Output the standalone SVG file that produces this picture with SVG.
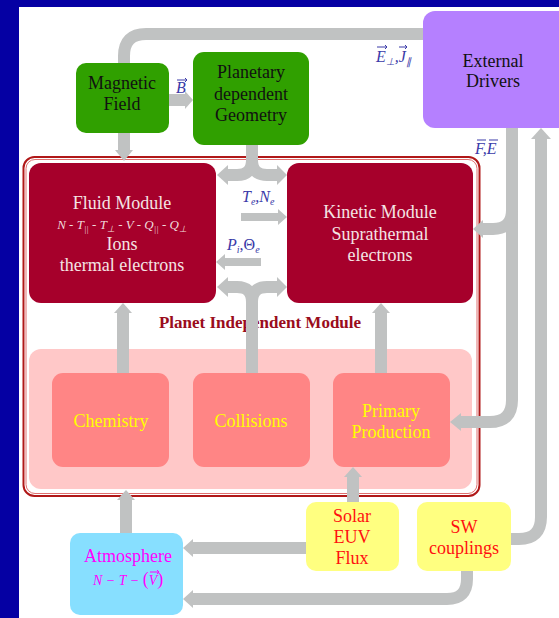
<svg xmlns="http://www.w3.org/2000/svg" width="559" height="618" viewBox="0 0 559 618">
<style>
.t{font-family:"Liberation Serif","Times New Roman",serif;font-size:18px;text-anchor:middle}
.m{font-family:"Liberation Serif","Times New Roman",serif;font-style:italic}
.lbl{fill:#3a3aa8;font-size:16px}
.c{fill:none;stroke:#c0c2c2;stroke-width:12}
.c8{fill:none;stroke:#c0c2c2;stroke-width:8}
.h{fill:#c0c2c2}
.v{stroke:#3a3aa8;stroke-width:1;fill:none}
</style>
<rect width="559" height="618" fill="#0500a3"/>
<rect x="19" y="7" width="540" height="611" fill="#ffffff"/>

<g id="planet-independent-module">
<rect x="23.5" y="157" width="456" height="339" rx="11" fill="none" stroke="#b01818" stroke-width="2"/>
<rect x="26" y="159.5" width="451" height="334" rx="9" fill="none" stroke="#e07070" stroke-width="1"/>
<rect x="29" y="349" width="443" height="140" rx="12" fill="#ffc8c8"/>
<text x="260" y="328" class="t" style="font-weight:bold;font-size:17px;fill:#9a0c1c">Planet Independent Module</text>
</g>

<g id="connectors">
<path class="c" d="M124,63 V56 Q124,34 146,34 H423"/>
<path class="c" d="M124,133 V150"/><polygon class="h" points="115,150 133,150 124,161"/>
<path class="c" d="M169,100 H185"/><polygon class="h" points="185,91 185,109 193,100"/>
<path class="c" d="M252,145 V160 Q252,175 237,175 H228 M252,160 Q252,175 267,175 H277"/>
<polygon class="h" points="228,165 228,185 217,175"/><polygon class="h" points="277,165 277,185 287,175"/>
<path class="c8" d="M241,217 H278"/><polygon class="h" points="278,209 278,225 287,217"/>
<path class="c8" d="M261,262 H225"/><polygon class="h" points="225,254 225,270 216,262"/>
<path class="c" d="M252,373 V302 Q252,287 237,287 H228 M252,302 Q252,287 267,287 H277"/>
<polygon class="h" points="228,277 228,297 217,287"/><polygon class="h" points="277,277 277,297 287,287"/>
<path class="c" d="M123,373 V313"/><polygon class="h" points="114,313 132,313 123,303"/>
<path class="c" d="M381,373 V313"/><polygon class="h" points="372,313 390,313 381,303"/>
<path class="c" d="M512,128 V400 Q512,422 490,422 H461"/><polygon class="h" points="461,413 461,431 450,422"/>
<path class="c" d="M512,210 Q512,229 493,229 H483"/><polygon class="h" points="483,220 483,238 473,229"/>
<path class="c" d="M510,539 H519 Q541,539 541,517 V139"/><polygon class="h" points="531,139 551,139 541,128"/>
<path class="c" d="M353,502 V477"/><polygon class="h" points="344,477 362,477 353,467"/>
<path class="c" d="M306,548 H193"/><polygon class="h" points="193,539 193,557 183,548"/>
<path class="c" d="M467,571 V579 Q467,599 447,599 H193"/><polygon class="h" points="193,590 193,608 183,599"/>
<path class="c" d="M126,533 V500"/><polygon class="h" points="117,500 135,500 126,490"/>
</g>

<g id="connector-labels">
<text x="176" y="93" class="m lbl">B</text>
<path class="v" d="M177,80 H187 M185,78 L187,80 L185,82"/>
<text x="376" y="62" class="m lbl"><tspan>E</tspan><tspan font-size="10" dy="3">⊥</tspan><tspan dy="-3">,J</tspan><tspan font-size="10" dy="3">∥</tspan></text>
<path class="v" d="M377,47 H387 M385,45 L387,47 L385,49 M399,47 H407 M405,45 L407,47 L405,49"/>
<text x="475" y="154" class="m lbl">F,E</text>
<path class="v" d="M477,140 H486 M489,140 H498"/>
<text x="242" y="202" class="m lbl">T<tspan font-size="10" dy="3">e</tspan><tspan dy="-3">,N</tspan><tspan font-size="10" dy="3">e</tspan></text>
<text x="227" y="250" class="m lbl">P<tspan font-size="10" dy="3">i</tspan><tspan dy="-3" font-style="normal">,Θ</tspan><tspan font-size="10" dy="3">e</tspan></text>
</g>

<g id="magnetic-field">
<rect x="76" y="63" width="93" height="70" rx="10" fill="#30a000"/>
<text x="122" y="89" class="t" fill="#111">Magnetic</text>
<text x="122" y="110" class="t" fill="#111">Field</text>
</g>

<g id="planetary-geometry">
<rect x="193" y="52" width="116" height="93" rx="11" fill="#30a000"/>
<text x="251" y="78" class="t" fill="#111">Planetary</text>
<text x="251" y="100" class="t" fill="#111">dependent</text>
<text x="251" y="121" class="t" fill="#111">Geometry</text>
</g>

<g id="external-drivers">
<rect x="423" y="11" width="150" height="117" rx="12" fill="#b580ff"/>
<text x="493" y="67" class="t" fill="#111">External</text>
<text x="493" y="87" class="t" fill="#111">Drivers</text>
</g>

<g id="fluid-module">
<rect x="29" y="163" width="187" height="140" rx="12" fill="#a6002b"/>
<text x="122" y="209" class="t" fill="#f4e4e4">Fluid Module</text>
<text x="122" y="229" class="m" style="font-size:13px;text-anchor:middle;fill:#f0dcdc">N - T<tspan font-size="9" dy="3">||</tspan><tspan dy="-3"> - T</tspan><tspan font-size="9" dy="3">⊥</tspan><tspan dy="-3"> - V - Q</tspan><tspan font-size="9" dy="3">||</tspan><tspan dy="-3"> - Q</tspan><tspan font-size="9" dy="3">⊥</tspan></text>
<text x="122" y="250" class="t" fill="#f4e4e4">Ions</text>
<text x="122" y="271" class="t" fill="#f4e4e4">thermal electrons</text>
</g>

<g id="kinetic-module">
<rect x="287" y="163" width="186" height="140" rx="12" fill="#a6002b"/>
<text x="380" y="218" class="t" fill="#f4e4e4">Kinetic Module</text>
<text x="380" y="240" class="t" fill="#f4e4e4">Suprathermal</text>
<text x="380" y="261" class="t" fill="#f4e4e4">electrons</text>
</g>

<g id="chemistry">
<rect x="52" y="373" width="117" height="94" rx="11" fill="#ff8585"/>
<text x="111" y="427" class="t" fill="#ffff00">Chemistry</text>
</g>

<g id="collisions">
<rect x="193" y="373" width="117" height="94" rx="11" fill="#ff8585"/>
<text x="251" y="427" class="t" fill="#ffff00">Collisions</text>
</g>

<g id="primary-production">
<rect x="333" y="373" width="117" height="94" rx="11" fill="#ff8585"/>
<text x="391" y="417" class="t" fill="#ffff00">Primary</text>
<text x="391" y="438" class="t" fill="#ffff00">Production</text>
</g>

<g id="solar-euv-flux">
<rect x="306" y="502" width="93" height="69" rx="10" fill="#ffff80"/>
<text x="352" y="522" class="t" fill="#ff1010">Solar</text>
<text x="352" y="543" class="t" fill="#ff1010">EUV</text>
<text x="352" y="564" class="t" fill="#ff1010">Flux</text>
</g>

<g id="sw-couplings">
<rect x="417" y="502" width="94" height="69" rx="10" fill="#ffff80"/>
<text x="464" y="533" class="t" fill="#ff1010">SW</text>
<text x="464" y="554" class="t" fill="#ff1010">couplings</text>
</g>

<g id="atmosphere">
<rect x="70" y="533" width="113" height="82" rx="10" fill="#87dfff"/>
<text x="128" y="562" class="t" fill="#ff00ff">Atmosphere</text>
<text x="93" y="585" class="m" style="font-size:14px;fill:#ff00ff">N − T − <tspan font-style="normal" font-size="18">(</tspan>V<tspan font-style="normal" font-size="18">)</tspan></text>
<path d="M150,572 H159 M157,570 L159,572 L157,574" stroke="#ff00ff" stroke-width="1" fill="none"/>
</g>
</svg>
